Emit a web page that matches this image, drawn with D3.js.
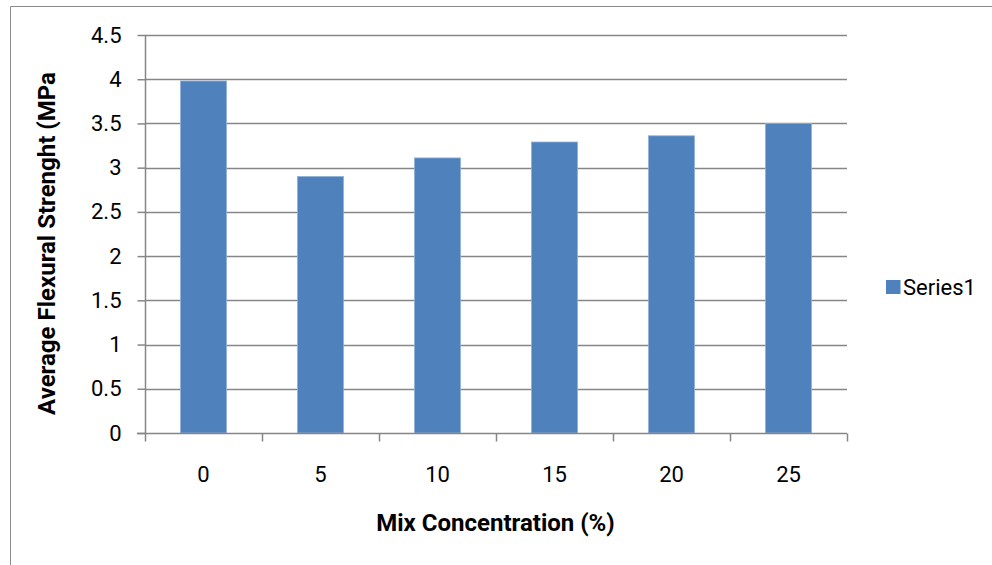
<!DOCTYPE html>
<html>
<head>
<meta charset="utf-8">
<script src="https://cdn.jsdelivr.net/npm/d3@7"></script>
<style>
  body { margin: 0; background: #fff; }
  text { font-family: Roboto, "Liberation Sans", sans-serif; fill: #000; }
</style>
</head>
<body>
<div id="chart"></div>
<script>
// chart data
const categories = ["0", "5", "10", "15", "20", "25"];
const values = [3.98, 2.9, 3.11, 3.29, 3.36, 3.5];
const yTicks = [0, 0.5, 1, 1.5, 2, 2.5, 3, 3.5, 4, 4.5];
const seriesName = "Series1";

const width = 992;
const height = 565;
const margin = { top: 35, right: 145, bottom: 132, left: 145 };
const chartWidth = width - margin.left - margin.right;
const chartHeight = height - margin.top - margin.bottom;
const axisColour = "#868686";

const svg = d3.select("#chart")
  .append("svg")
  .attr("width", width)
  .attr("height", height);

// outer border
svg.append("path")
  .attr("d", `M10.5,${height}V6.5H${width}`)
  .attr("fill", "none")
  .attr("stroke", "#8c8c8c")
  .attr("stroke-width", 1);

const chart = svg.append("g")
  .attr("transform", `translate(${margin.left},${margin.top})`);

const xScale = d3.scaleBand()
  .domain(categories)
  .range([0, chartWidth]);

const yScale = d3.scaleLinear()
  .domain([0, 4.5])
  .range([chartHeight, 0]);

const barWidth = 46;

// gridlines
chart.append("g")
  .selectAll("line")
  .data(yTicks.filter(d => d > 0))
  .enter()
  .append("line")
  .attr("x1", 0)
  .attr("x2", chartWidth)
  .attr("y1", d => Math.round(yScale(d)) + 0.5)
  .attr("y2", d => Math.round(yScale(d)) + 0.5)
  .attr("stroke", axisColour)
  .attr("stroke-width", 1.5);

// bars
chart.append("g")
  .selectAll("rect")
  .data(values)
  .enter()
  .append("rect")
  .attr("x", (d, i) => xScale(categories[i]) + xScale.bandwidth() / 2 - barWidth / 2)
  .attr("width", barWidth)
  .attr("y", d => yScale(d))
  .attr("height", d => chartHeight - yScale(d))
  .attr("fill", "#4f81bd")
  .attr("stroke", "#8fb0d8")
  .attr("stroke-width", 0.8);

// y axis
const yAxis = chart.append("g")
  .attr("transform", "translate(0.5,0)")
  .call(d3.axisLeft(yScale).tickValues(yTicks).tickSize(8).tickPadding(16).tickFormat(d => d));
yAxis.select(".domain").attr("stroke", axisColour).attr("stroke-width", 1.5)
  .attr("d", `M0,${chartHeight}V0`);
yAxis.selectAll(".tick line").attr("stroke", axisColour).attr("stroke-width", 1.5);
yAxis.selectAll(".tick text")
  .attr("fill", "#000")
  .style("font-size", "22px")
  .style("font-family", "Roboto, sans-serif");

// x axis
const xAxisG = chart.append("g")
  .attr("transform", `translate(0,${chartHeight + 0.5})`);
xAxisG.append("line")
  .attr("x1", -8).attr("x2", chartWidth)
  .attr("stroke", axisColour)
  .attr("stroke-width", 1.5);
xAxisG.selectAll(".xtick")
  .data(d3.range(categories.length + 1))
  .enter()
  .append("line")
  .attr("x1", i => Math.round(i * xScale.step()) + 0.5)
  .attr("x2", i => Math.round(i * xScale.step()) + 0.5)
  .attr("y1", 0)
  .attr("y2", 8)
  .attr("stroke", axisColour)
  .attr("stroke-width", 1.5);
xAxisG.selectAll(".xlabel")
  .data(categories)
  .enter()
  .append("text")
  .attr("x", d => xScale(d) + xScale.bandwidth() / 2)
  .attr("y", 48)
  .attr("text-anchor", "middle")
  .style("font-size", "22px")
  .text(d => d);

// axis titles
svg.append("text")
  .attr("transform", "translate(55,243.5) rotate(-90)")
  .attr("text-anchor", "middle")
  .style("font-size", "24px")
  .style("font-weight", "bold")
  .text("Average Flexural Strenght (MPa");

svg.append("text")
  .attr("x", 495.5)
  .attr("y", 531)
  .attr("text-anchor", "middle")
  .style("font-size", "24px")
  .style("font-weight", "bold")
  .text("Mix Concentration (%)");

// legend
const legend = svg.append("g").attr("transform", "translate(886,280)");
legend.append("rect")
  .attr("width", 14.5)
  .attr("height", 14)
  .attr("fill", "#4f81bd");
legend.append("text")
  .attr("x", 17)
  .attr("y", 15)
  .style("font-size", "22px")
  .text(seriesName);
</script>
</body>
</html>
